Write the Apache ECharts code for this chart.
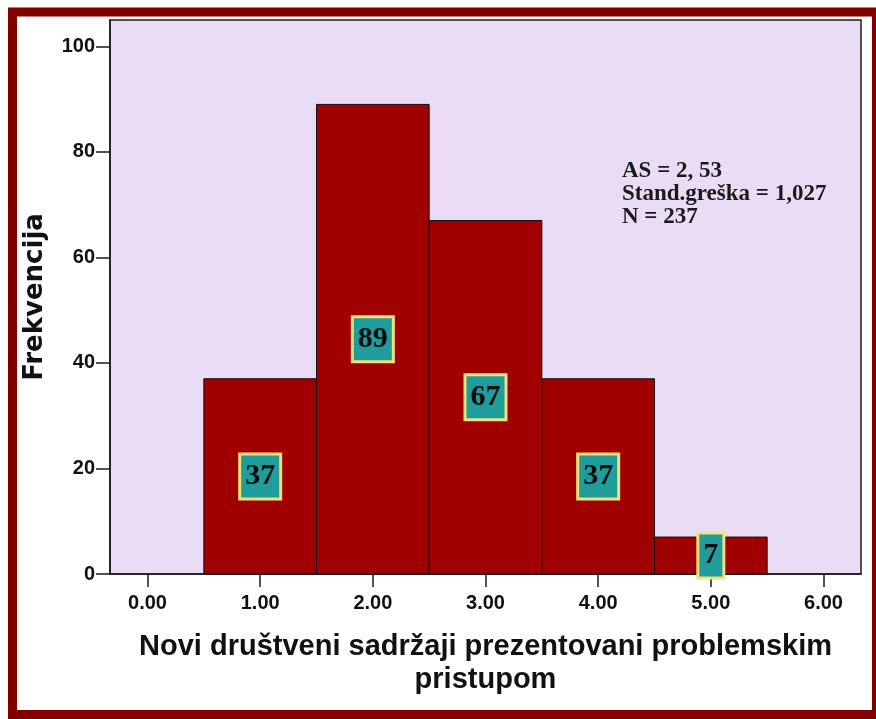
<!DOCTYPE html>
<html>
<head>
<meta charset="utf-8">
<script src="https://cdn.jsdelivr.net/npm/echarts@6/dist/echarts.min.js"></script>
<style>
html,body{margin:0;padding:0;background:#fff;}
#c{width:876px;height:719px;}
</style>
</head>
<body>
<div id="c"></div>
<script>
// Data
const binCenters = [1, 2, 3, 4, 5];
const frequencies = [37, 89, 67, 37, 7];
const xTickValues = [0, 1, 2, 3, 4, 5, 6];
const yTickValues = [0, 20, 40, 60, 80, 100];
const statsLines = ['AS = 2, 53', 'Stand.greška = 1,027', 'N = 237'];
const xTitle = 'Novi društveni sadržaji prezentovani problemskim\npristupom';
const yTitle = 'Frekvencija';

const barData = binCenters.map((c, i) => [c, frequencies[i]]);

const chart = echarts.init(document.getElementById('c'), null, {renderer: 'canvas'});
chart.setOption({
  backgroundColor: '#ffffff',
  animation: false,
  grid: {
    left: 110, top: 20, right: 15, bottom: 145,
    show: true, backgroundColor: '#ebdcf5', borderColor: '#1a1a1a', borderWidth: 1.5
  },
  xAxis: {
    type: 'value', min: -0.333, max: 6.333,
    name: xTitle, nameLocation: 'middle', nameGap: 56,
    nameTextStyle: {fontFamily: 'Liberation Sans', fontWeight: 'bold', fontSize: 29, color: '#111', lineHeight: 33},
    axisLine: {show: true, onZero: false, lineStyle: {color: '#1a1a1a', width: 1.5}},
    axisTick: {show: true, inside: false, length: 13, lineStyle: {color: '#1a1a1a', width: 1.5}, customValues: xTickValues},
    axisLabel: {show: true, margin: 19, fontFamily: 'Liberation Sans', fontWeight: 'bold', fontSize: 20, color: '#111',
      customValues: xTickValues, formatter: v => v.toFixed(2)},
    splitLine: {show: false}
  },
  yAxis: {
    type: 'value', min: 0, max: 105,
    name: yTitle, nameLocation: 'middle', nameGap: 62, nameRotate: 90,
    nameTextStyle: {fontFamily: 'DejaVu Sans', fontWeight: 'bold', fontSize: 26, color: '#111'},
    axisLine: {show: true, onZero: false, lineStyle: {color: '#1a1a1a', width: 1.5}},
    axisTick: {show: true, inside: false, length: 14, lineStyle: {color: '#1a1a1a', width: 1.5}, customValues: yTickValues},
    axisLabel: {show: true, margin: 15, fontFamily: 'Liberation Sans', fontWeight: 'bold', fontSize: 20, color: '#111',
      customValues: yTickValues},
    splitLine: {show: false}
  },
  graphic: [
    {type: 'rect', silent: true, z: 100,
      shape: {x: 12.5, y: 12, width: 864, height: 702.5},
      style: {fill: 'none', stroke: '#800000', lineWidth: 9}},
    {type: 'text', left: 622, top: 160, z: 50,
      style: {text: statsLines.join('\n'), font: 'bold 23px "Liberation Serif"', fill: '#1a1a1a', lineHeight: 23}}
  ],
  series: [{
    type: 'custom',
    data: barData,
    encode: {x: 0, y: 1},
    renderItem: function (params, api) {
      const c = api.value(0), v = api.value(1);
      const p0 = api.coord([c - 0.5, v]);
      const p1 = api.coord([c + 0.5, 0]);
      return {
        type: 'rect',
        shape: {x: p0[0], y: p0[1], width: p1[0] - p0[0], height: p1[1] - p0[1]},
        style: {fill: '#a00000', stroke: '#111', lineWidth: 1},
        textContent: {
          style: {
            text: String(v), font: 'bold 30px "Liberation Serif"', fill: '#0d0d0d',
            backgroundColor: '#1f9c9c', borderColor: '#efe27a', borderWidth: 3,
            padding: [5, 4], lineHeight: 32
          }
        },
        textConfig: {position: 'inside'}
      };
    }
  }]
});
</script>
</body>
</html>
